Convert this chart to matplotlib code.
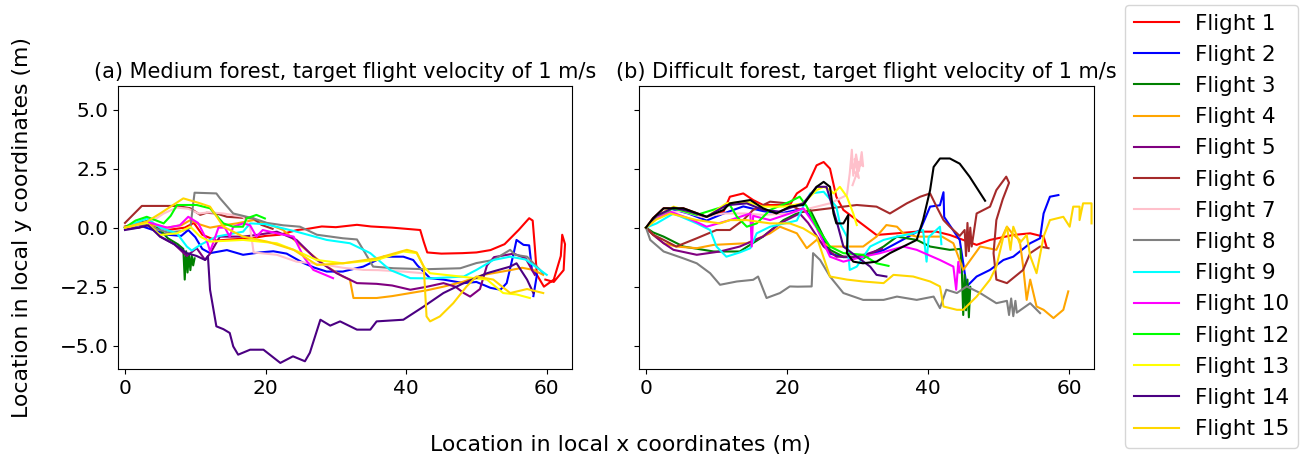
import matplotlib
matplotlib.use("Agg")
import matplotlib.pyplot as plt

labels = ["Flight 1", "Flight 2", "Flight 3", "Flight 4", "Flight 5", "Flight 6", "Flight 7",
          "Flight 8", "Flight 9", "Flight 10", "Flight 12", "Flight 13", "Flight 14", "Flight 15"]
colors = ["red", "blue", "green", "orange", "purple", "brown", "pink",
          "gray", "cyan", "magenta", "lime", "yellow", "indigo", "gold"]

# ---------------- Panel (a): medium forest ----------------
A1 = [(0,0.05),(2,0.2),(4,0.1),(6,-0.1),(8.5,0.0),(9.8,0.2),(11,-0.3),(13,-0.55),(15,-0.5),(18,-0.45),(20,-0.35),(22,-0.3),(24.5,-0.1),(26,-0.05),(28,0.05),(30,0.02),(33,0.12),(35,0.05),(38,0.0),(42,-0.1),(42.5,-0.6),(43,-1.05),(45,-1.1),(48,-1.08),(50,-1.05),(52,-0.95),(54,-0.7),(56,-0.1),(57.5,0.4),(58,0.3),(58.3,-0.8),(58.6,-2.0),(59.6,-2.5),(61,-2.2),(62,-1.2),(62.2,-0.3),(62.6,-0.7),(62.4,-1.8),(61,-2.3),(59.8,-2.2)]
A2 = [(0,0),(2,0.1),(4,-0.1),(6,-0.3),(8,-0.35),(9,-0.1),(10,-0.4),(11,-0.9),(12.1,-1.08),(14.5,-0.95),(16.8,-1.15),(19.2,-1.05),(21.1,-1.0),(23,-1.1),(25.4,-1.5),(27,-1.7),(28.7,-1.86),(31,-1.86),(33.9,-1.65),(36.8,-1.23),(39.6,-1.23),(41,-1.37),(41.6,-1.6),(43.4,-2.14),(45.3,-2.2),(48.2,-2.35),(50,-2.3),(52,-2.55),(53.4,-2.63),(54.3,-2.35),(55.3,-1.08),(55.7,-0.52),(56.7,-0.73),(57.5,-0.75),(57.9,-1.8),(58.6,-2.0),(58.1,-2.9)]
A3 = [(0,0),(2,0.2),(3.5,0.3),(5,-0.1),(6.1,-0.45),(7.5,-0.7),(8.3,-0.9),(8.5,-2.2),(8.7,-1.0),(8.9,-1.9),(9.1,-1.1),(9.3,-1.8),(9.5,-1.2),(9.7,-1.6),(9.9,-1.3)]
A4 = [(0,0),(2,0.15),(4,0.1),(6,0.0),(8,0.1),(9.3,0.32),(10.5,0.15),(12.1,0.0),(14,0.1),(15.9,0.18),(18.3,0.32),(20,0.2),(22.5,-0.1),(24,-0.5),(26.3,-1.08),(28.5,-1.6),(31,-2.07),(32,-2.2),(32.5,-2.98),(35.8,-2.98),(38,-2.9),(40.6,-2.77),(43,-2.65),(45.3,-2.5),(48,-2.3),(51,-2.0),(54.8,-1.8),(56.5,-1.7),(58.1,-1.79),(59.5,-2.0)]
A5 = [(0,-0.05),(2,0.0),(3.3,0.15),(5,-0.38),(7,-0.7),(8.8,-1.2),(10.2,-0.87),(11.4,-1.37),(12.1,-1.1),(13.5,-0.38),(16.8,-0.38),(19,-0.3),(21.6,-0.17),(24.4,-0.52),(27.3,-1.37),(30.1,-1.93),(33,-2.35),(35.8,-2.38),(38,-2.45),(40.6,-2.63),(43,-2.5),(45.3,-2.35),(47,-2.5),(48.2,-2.77),(49.1,-2.92),(50.5,-2.6),(51.5,-1.6),(52.5,-1.25),(55.3,-1.1),(57,-1.3),(58.3,-2.0)]
A6 = [(0,0.2),(1,0.5),(2.4,0.92),(5,0.92),(7.4,0.92),(9.3,0.82),(10.7,0.54),(11.6,0.63),(13,0.6),(14.5,0.46),(16.5,0.42),(18.3,0.39),(19.4,0.12),(21,-0.05)]
A7 = [(0,0),(2,0.15),(4,0.3),(5.5,0.6),(7.4,0.85),(9,0.8),(10.5,0.6),(12,0.65),(14,0.6),(16.8,0.46),(17.8,0.0),(18.3,-1.05),(21.6,-1.15),(24.4,-1.44),(28.7,-1.58),(31,-1.7),(33.9,-1.79),(36,-1.8),(39.6,-1.86),(42.4,-1.93)]
A8 = [(0,0),(2,0.2),(4,0.0),(6,-0.2),(8,-0.15),(9.3,0.0),(9.7,1.0),(9.9,1.48),(13,1.45),(13.5,1.25),(15.4,0.6),(18.3,0.39),(20.2,0.2),(22.5,0.1),(24.9,0.04),(27.3,-0.3),(31,-0.45),(33,-0.5),(33.9,-0.94),(35.3,-1.65),(38.2,-1.72),(42.9,-1.76),(47.7,-1.72),(50,-1.5),(52.4,-1.37),(54.8,-0.94),(55.5,-1.15),(57.2,-1.23),(59.5,-1.93)]
A9 = [(0,0),(1.5,0.2),(3.1,0.39),(5,0.0),(7.4,-0.24),(8.8,-0.8),(9.5,-0.97),(10.7,-0.73),(13,-0.38),(16.8,-0.17),(17.8,0.18),(20,0.15),(24.4,-0.17),(28.7,-0.52),(32,-0.66),(34.9,-1.08),(37.7,-1.79),(40.6,-2.14),(43.4,-2.15),(48.2,-2.07),(50,-1.79),(52.4,-1.37),(54.8,-1.23),(57,-1.35),(60,-2.0)]
A10 = [(0,0),(3.1,0.25),(6,0.0),(7.8,0.1),(9,0.46),(10.4,0.2),(11.6,-0.5),(12.1,-1.0),(12.6,-0.6),(13.3,0.0),(14.2,0.0),(14.9,-0.38),(15.4,0.04),(16.8,0.18),(17.8,0.1),(18.7,-0.38),(19.6,-0.1),(21.6,-0.24),(24,-0.38),(25.4,-1.23),(26.8,-1.79),(29.6,-2.14)]
A12 = [(0,0),(1.5,0.3),(3.1,0.46),(5.5,0.18),(6.5,0.5),(7.4,0.96),(10.2,0.96),(12.1,0.82),(14,0.18),(15.4,0.04),(16.8,0.04),(17.3,0.39),(18.7,0.54),(19.9,0.39)]
A13 = [(0,0),(3.1,0.2),(5,-0.31),(7.4,-0.24),(9.3,0.04),(10.7,-0.38),(12.1,-0.59),(16.8,-0.52),(21.6,-0.66),(24.5,-1.0),(27.3,-1.37),(31,-1.51),(35.8,-1.37),(39.6,-1.01),(41.5,-1.08),(42.5,-1.65),(43.4,-1.93),(47.7,-2.07),(51.5,-2.2),(53.8,-2.77),(55.7,-2.83),(57.6,-2.98)]
A14 = [(0,-0.1),(2,0.0),(3.3,0.1),(5,-0.38),(7,-0.7),(8.8,-1.08),(10.2,-1.2),(11.4,-1.37),(11.8,-1.2),(12.1,-2.63),(13,-4.18),(14,-4.3),(14.9,-4.46),(15.4,-5.03),(16.1,-5.38),(17.8,-5.17),(19.7,-5.17),(22.1,-5.73),(23.9,-5.45),(25.6,-5.66),(26.3,-5.3),(27.8,-3.9),(29.2,-4.15),(30.6,-3.97),(33,-4.32),(34.9,-4.32),(35.8,-3.97),(39.6,-3.9),(42.5,-3.34),(45.3,-2.77),(48.2,-2.35),(51.5,-1.93),(54.8,-1.65),(55.7,-1.51),(57.2,-2.2),(58.1,-2.77)]
A15 = [(0,0),(3.1,0.25),(5,0.6),(8.3,1.24),(10.7,1.03),(12.1,0.89),(14,0.04),(16.8,-0.38),(20.2,-0.59),(24,-0.94),(27.3,-1.58),(31,-1.51),(35.8,-1.3),(40.1,-0.94),(41.5,-1.05),(42.5,-1.65),(42.9,-3.76),(43.4,-3.97),(44.8,-3.76),(46.7,-3.2),(48.6,-2.49),(50,-2.07),(52.4,-2.2),(54.8,-2.77),(57.2,-2.6),(59.5,-2.77)]

# ---------------- Panel (b): difficult forest ----------------
B1 = [(0,0),(1,0.4),(2.5,0.82),(5.3,0.82),(8.6,0.46),(11,0.68),(11.9,1.31),(13.8,1.45),(15.2,1.17),(16.6,0.96),(20.4,0.96),(21.4,1.45),(22.8,1.73),(24.2,2.64),(25.2,2.78),(26.1,2.5),(27,1.31),(28,0.75),(29.9,0.32),(32.7,-0.31),(35.6,-0.24),(38.4,-0.17),(41.2,-0.17),(43.1,-0.31),(45,-0.52),(46.9,-0.73),(48.8,-0.52),(52.1,-0.31),(54.5,-0.24),(56.4,-0.38),(56.8,-0.8)]
B2 = [(0,0),(1.5,0.5),(3.5,0.8),(6,0.6),(8.6,0.3),(11,0.6),(13.8,0.9),(16.6,0.7),(19,0.6),(22.3,0.8),(23.6,0.4),(26.1,-1.1),(28,-1.25),(30.8,-1.25),(33.7,-0.95),(36.5,-0.5),(38.9,-0.1),(40.3,0.89),(41.7,0.95),(42.2,1.5),(42.3,0.45),(44.5,-0.52),(45.5,-2.49),(46.9,-2.07),(48.8,-1.79),(50.7,-1.37),(52.1,-1.23),(54.5,-0.66),(55.9,-0.45),(56.4,0.6),(57.3,1.31),(58.5,1.38)]
B3 = [(0,0),(1,-0.2),(2.5,-0.38),(5.3,-0.8),(9.6,-1.01),(13.3,-1.01),(16.6,-0.38),(19.5,0.32),(21.4,0.6),(23.3,0.75),(24.7,-0.1),(26.1,-0.94),(28,-1.23),(30.8,-1.3),(33.7,-0.8),(35.6,-0.38),(38.4,-0.52),(40.3,-0.8),(43.1,-0.94),(44.6,-0.9),(44.8,-1.8),(45.0,-3.7),(45.2,-2.0),(45.4,-3.5),(45.6,-2.2),(45.8,-3.8),(46.0,-2.5),(45.5,-3.3),(45.3,-2.6)]
B4 = [(0,0),(1,-0.3),(2.5,-0.66),(4.3,-0.8),(7.2,-0.87),(9.6,-0.73),(14.3,-0.66),(17.6,-0.24),(19,0.04),(21.4,-0.24),(22.8,-0.87),(24.2,-0.52),(26.1,-0.8),(28.5,-0.8),(30.8,-0.8),(32.7,-0.38),(34.1,0.11),(35.6,0.04),(36.5,-0.24),(38.4,-0.38),(42,-0.38),(43.6,-0.66),(45,-1.79),(47.4,-0.8),(49.7,-0.94),(51.2,0.04),(52.1,-0.3),(53,-0.52),(53.5,-1.65),(54,-3.06),(54.5,-2.2),(55.4,-3.34),(56.4,-3.48),(57.8,-3.83),(59.2,-3.48),(59.9,-2.7)]
B5 = [(0,0),(1,-0.3),(2.5,-0.66),(3.9,-0.94),(7.2,-1.15),(10.5,-1.01),(13.3,-0.8),(16.6,-0.38),(19,0.18),(21.8,0.6),(23,0.2),(25.2,-0.8),(27,-1.23),(29.9,-1.23),(31.5,-1.1),(33.5,-0.9)]
B6 = [(0,0),(1,-0.3),(2.5,-0.52),(4.3,-0.8),(7.2,-0.45),(10,-0.1),(11.9,-0.1),(13.8,0.32),(15.2,0.75),(17.6,1.1),(20,1.03),(22.3,0.68),(26.1,0.82),(29.9,0.96),(32.7,0.89),(34.6,0.6),(37,1.03),(38.9,1.31),(40.3,1.45),(41.2,0.9),(42.2,0.32),(43.1,0.04),(44.5,-0.35),(45.2,-0.1),(45.4,-1.2),(45.6,0.2),(45.8,-1.0),(46.0,0.0),(46.2,-0.8),(46.9,0.6),(48.8,0.89),(49.7,1.59),(51.1,2.16),(51.5,1.9),(50.6,1.2),(49.7,0.32),(49.3,-1.08),(49.7,-2.2),(51.2,-2.35),(53.5,-1.79),(54.5,-1.08),(55.9,-0.8),(57.1,-0.87)]
B7 = [(0,0),(2,0.6),(5,0.7),(8,0.45),(11,0.6),(14,0.6),(16.6,0.54),(20,0.6),(22.3,0.75),(24.2,0.89),(26.1,1.03),(28.5,1.38),(28.9,2.3),(29.2,3.3),(29.4,2.2),(29.8,3.1),(30.2,2.4),(30.6,3.2),(30.8,2.6),(29.6,2.9),(30.2,2.1),(29.1,2.6),(30.5,2.8),(29.3,1.8)]
B8 = [(0,0),(0.6,-0.52),(2.5,-1.01),(5.3,-1.3),(7.2,-1.51),(9.1,-1.93),(10.5,-2.42),(12.9,-2.28),(15.2,-2.21),(15.9,-2.07),(17.1,-2.98),(19,-2.77),(20.4,-2.49),(21.5,-2.5),(23.5,-2.49),(23.7,-1.08),(24.7,-1.37),(26.1,-2.07),(28,-2.77),(30.8,-3.06),(33.7,-3.06),(35.6,-2.92),(38.4,-3.06),(40.8,-2.92),(41.7,-3.41),(42.6,-2.63),(44.1,-2.77),(45.5,-2.49),(47.4,-2.77),(49.7,-3.2),(51.2,-3.1),(51.5,-3.7),(51.8,-3.0),(52.1,-3.75),(52.4,-3.1),(52.6,-3.6),(54.5,-3.2),(55.9,-3.62)]
B9 = [(0,0),(1.5,0.18),(3.9,0.6),(7.2,0.18),(9.1,-0.1),(10,-0.8),(11.4,-1.23),(13.3,-1.05),(14.8,-0.87),(15.7,-0.24),(17.6,0.04),(21.4,0.3),(22.3,0.89),(23.3,1.45),(25.2,1.52),(27,0.89),(27.5,0.18),(28.5,-0.38),(28.9,-1.79),(29.9,-1.65),(31.8,-0.8),(33.7,-0.52),(35.6,-0.38),(37.9,-0.24),(39.3,-0.1),(39.8,-1.44),(40.1,-0.4),(41.7,0.04),(41.9,-0.7)]
B10 = [(0,0),(1.5,0.4),(3.4,0.68),(6,0.4),(8.6,0.04),(11.9,0.32),(14.8,0.6),(15,-0.8),(15.2,0.5),(17.6,0.32),(20.4,0.6),(22.3,0.82),(24.2,0.0),(26.1,-1.23),(28,-1.44),(30.8,-1.23),(33.2,-1.08),(36.5,-0.8),(38.4,-0.94),(41.7,-1.37),(43.6,-1.65),(44,-2.63),(44.3,-1.45),(44.5,-1.9)]
B12 = [(0,0),(1.5,0.5),(3.9,0.82),(7.2,0.54),(10,0.8),(11.9,0.96),(12.9,0.46),(14.3,0.04),(15.7,0.18),(17.6,0.75),(20.4,1.1),(21.8,1.31),(22.8,0.9),(24.2,0.04),(26.1,-0.8),(28,-1.08),(30.8,-1.15),(32.7,-1.51),(34.4,-1.62)]
B13 = [(0,0),(1.5,0.5),(3.9,0.89),(6,0.7),(8.6,0.46),(11.4,1.03),(14.3,1.1),(16.6,0.89),(19.5,0.89),(22.3,1.03),(24.2,1.59),(25.2,1.73),(26.1,1.6),(26.6,1.45),(27.5,1.73),(28.5,1.31),(29.4,0.6),(29.9,0.11)]
B14 = [(0,0),(1.5,0.5),(3.9,0.85),(6,0.7),(8.6,0.46),(11.4,0.95),(14.3,1.03),(16.6,0.75),(18.9,0.68),(22.3,1.03),(24.2,1.73),(25.6,1.73),(27,0.32),(28,-0.8),(29.9,-1.23),(31.8,-1.65),(32.7,-2.0),(34.1,-2.07)]
B15 = [(0,0),(1.5,0.35),(3.4,0.6),(7.2,0.32),(10.5,0.18),(11.9,0.32),(14.3,0.32),(17.6,0.18),(20.4,0.18),(22.3,-0.03),(24.2,-0.38),(26.1,-2.07),(28.5,-2.2),(30.8,-2.28),(33.7,-2.35),(35.1,-2.0),(37.9,-2.07),(40.3,-2.28),(41.7,-2.49),(42.2,-3.34),(44.1,-3.48),(45,-3.48),(46.9,-2.92),(48.8,-2.2),(49.7,-1.65),(50.7,-0.38),(51.2,0.04),(51.7,-0.94),(52.1,0.04),(53,-0.66),(54,-0.31),(54.5,-1.2),(55.4,-1.93),(56.4,-0.38),(57.3,0.32),(59.2,0.46),(60.1,0.04),(60.6,0.89),(61.5,0.89),(61.5,0.32),(62,1.03),(63.2,1.03),(63.2,0.18)]
B_extra = [(0,0),(1,0.4),(2.5,0.82),(5.3,0.82),(8.6,0.46),(11,0.75),(11.9,1.03),(14.8,1.17),(16.6,0.82),(18.5,0.6),(20.4,0.89),(22.3,0.96),(24.2,1.73),(25.2,1.94),(26.1,1.73),(26.6,0.6),(27,0.18),(28,0.18),(28.7,0.54),(28.5,-1.08),(29.4,-1.44),(30.8,-1.51),(32.7,-1.44),(34.6,-1.08),(36.5,-0.8),(38.4,-0.52),(39.3,0.32),(40.3,1.59),(40.8,2.57),(41.7,2.93),(43.1,2.93),(44.5,2.71),(45.9,2.16),(48.1,1.14)]

panel_a = [A1, A2, A3, A4, A5, A6, A7, A8, A9, A10, A12, A13, A14, A15]
panel_b = [B1, B2, B3, B4, B5, B6, B7, B8, B9, B10, B12, B13, B14, B15]

W, H = 1304, 459
fig = plt.figure(figsize=(W / 100, H / 100), dpi=100)
ax_a = fig.add_axes([118.3 / W, 1 - 369.3 / H, (571.7 - 118.3) / W, (369.3 - 86) / H])
ax_b = fig.add_axes([639.3 / W, 1 - 369.3 / H, (1094 - 639.3) / W, (369.3 - 86) / H], sharey=ax_a)

TICK_FS = 14.5
TITLE_FS = 15
LABEL_FS = 15.8
LEG_FS = 15.5
for ax, traces in ((ax_a, panel_a), (ax_b, panel_b)):
    for pts, c, lab in zip(traces, colors, labels):
        xs = [p[0] for p in pts]
        ys = [p[1] for p in pts]
        ax.plot(xs, ys, color=c, lw=1.5, label=lab)
ax_b.plot([p[0] for p in B_extra], [p[1] for p in B_extra], color="black", lw=1.5)

for ax in (ax_a, ax_b):
    ax.set_xlim(-0.95, 63.55)
    ax.set_ylim(-6, 6)
    ax.set_xticks([0, 20, 40, 60])
    ax.tick_params(labelsize=TICK_FS)
ax_a.set_yticks([-5.0, -2.5, 0.0, 2.5, 5.0])
plt.setp(ax_b.get_yticklabels(), visible=False)

ax_a.set_title("(a) Medium forest, target flight velocity of 1 m/s", fontsize=TITLE_FS)
ax_b.set_title("(b) Difficult forest, target flight velocity of 1 m/s", fontsize=TITLE_FS)

fig.text(22 / W, 1 - 227 / H, "Location in local y coordinates (m)", rotation=90,
         ha="center", va="center", fontsize=LABEL_FS)
fig.text(621 / W, 1 - 445 / H, "Location in local x coordinates (m)",
         ha="center", va="center", fontsize=LABEL_FS)

handles, labs = ax_a.get_legend_handles_labels()
fig.legend(handles, labs, loc="upper left", bbox_to_anchor=(1125 / W, 1 - 5 / H),
           borderaxespad=0, fontsize=LEG_FS, handlelength=2.1, handletextpad=0.75,
           labelspacing=0.52)

fig.savefig("out.png", dpi=100)
